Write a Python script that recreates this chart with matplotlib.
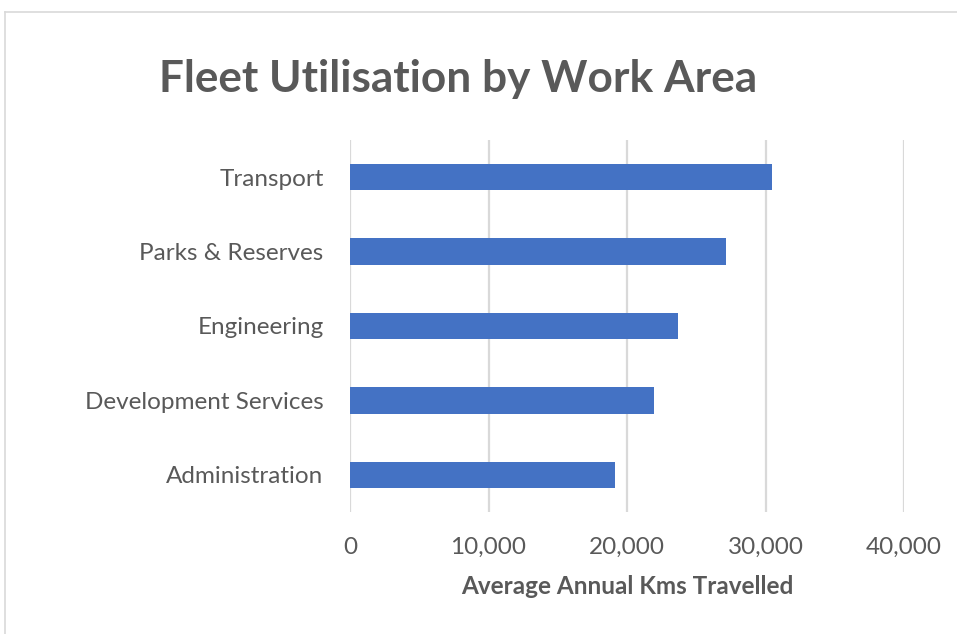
import matplotlib
matplotlib.use("Agg")
import matplotlib.pyplot as plt
from matplotlib.lines import Line2D
from matplotlib.ticker import FuncFormatter

plt.rcParams['font.family'] = ['Lato', 'DejaVu Sans']

categories = ["Administration", "Development Services", "Engineering",
              "Parks & Reserves", "Transport"]
avg_kms = [19160, 21960, 23700, 27140, 30460]
x_ticks = [0, 10000, 20000, 30000, 40000]

TEXT = "#595959"
GRID = "#D9D9D9"
BAR = "#4472C4"

W, H = 957, 634
fig = plt.figure(figsize=(W / 100, H / 100), dpi=100)

# chart area border (left and top edges visible)
fig.add_artist(Line2D([5 / W, 5 / W], [0, 1 - 12 / H], color=GRID, lw=1.2,
                      transform=fig.transFigure))
fig.add_artist(Line2D([5 / W, 1], [1 - 12 / H, 1 - 12 / H], color=GRID, lw=1.2,
                      transform=fig.transFigure))

ax = fig.add_axes([350 / W, 1 - 512 / H, (904 - 350) / W, (512 - 140) / H])
ax.barh(range(len(categories)), avg_kms, height=0.355, color=BAR, zorder=3)
ax.set_xlim(0, 40000)
ax.set_ylim(-0.5, len(categories) - 0.5)
ax.set_xticks(x_ticks)
ax.xaxis.set_major_formatter(FuncFormatter(lambda v, p: f"{int(v):,}"))
ax.set_yticks(range(len(categories)))
ax.set_yticklabels(categories)
ax.grid(axis='x', color=GRID, lw=1.6, zorder=0)
for s in ax.spines.values():
    s.set_visible(False)
ax.tick_params(axis='both', length=0, labelsize=17.5, colors=TEXT)
ax.tick_params(axis='y', pad=19)
ax.tick_params(axis='x', pad=18)

ax.set_xlabel("Average Annual Kms Travelled", fontsize=17.5, fontweight='bold',
              color=TEXT, labelpad=12)

fig.text(458 / W, 1 - 79 / H, "Fleet Utilisation by Work Area", ha='center',
         va='center', fontsize=31.8, fontweight='bold', color=TEXT)

fig.savefig("out.png", dpi=100, facecolor="white")
